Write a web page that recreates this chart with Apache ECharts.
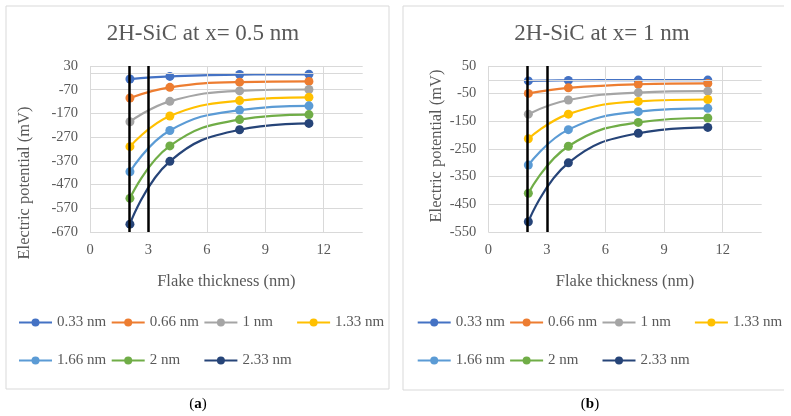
<!DOCTYPE html>
<html>
<head>
<meta charset="UTF-8">
<title>2H-SiC electric potential</title>
<script src="https://cdn.jsdelivr.net/npm/echarts@6/dist/echarts.min.js"></script>
<style>
  html, body { margin: 0; padding: 0; background: #fff; }
  #main { width: 791px; height: 416px; }
</style>
</head>
<body>
<div id="main"></div>
<script>
// flake thickness (nm) on the x axis
var thickness = [2.05, 4.1, 7.68, 11.24];
var seriesNames = ['0.33 nm', '0.66 nm', '1 nm', '1.33 nm', '1.66 nm', '2 nm', '2.33 nm'];
var colors = ['#4472C4', '#ED7D31', '#A5A5A5', '#FFC000', '#5B9BD5', '#70AD47', '#264478'];

// (a) x = 0.5 nm, potential in mV
var a033 = [-25, -14, -6, -5];
var a066 = [-105, -60, -38, -35];
var a1   = [-205, -119, -75, -69];
var a133 = [-310, -181, -116, -102];
var a166 = [-416, -242, -156, -138];
var a2   = [-528, -307, -196, -175];
var a233 = [-637, -372, -239, -212];

// (b) x = 1 nm, potential in mV
var b033 = [-4, -2, -1, -1];
var b066 = [-49, -29, -16, -13];
var b1   = [-124, -73, -46, -41];
var b133 = [-213, -124, -78, -71];
var b166 = [-308, -180, -115, -103];
var b2   = [-410, -240, -154, -138];
var b233 = [-513, -300, -193, -172];

// x gridlines (the axis runs to 14 but has no line there)
var xTicks = [0, 3, 6, 9, 12];
// vertical black marker lines (nm)
var cutoffs = [2, 3];

var grey = '#595959';
var gridGrey = '#d9d9d9';
var serif = 'Liberation Serif';

var myChart = echarts.init(document.getElementById('main'), null, { renderer: 'canvas' });

function makeSeries(gridIdx, lists) {
    var out = [];
    for (var i = 0; i < lists.length; i++) {
        var s = {
            name: seriesNames[i],
            type: 'line',
            xAxisIndex: gridIdx,
            yAxisIndex: gridIdx,
            data: thickness.map(function (t, j) { return [t, lists[i][j]]; }),
            smooth: 0.45,
            symbol: 'circle',
            symbolSize: 9,
            color: colors[i],
            lineStyle: { width: 2.2, color: colors[i] },
            itemStyle: { color: colors[i] },
            animation: false,
            z: 3
        };
        if (i === 0) {
            // grid lines first, then the zero axis line, then black markers
            var ml = xTicks.map(function (t) {
                return { xAxis: t, lineStyle: { color: gridGrey, width: 1, type: 'solid' } };
            });
            ml.push({ yAxis: 0, lineStyle: { color: gridGrey, width: 1, type: 'solid' } });
            cutoffs.forEach(function (c) {
                ml.push({ xAxis: c, lineStyle: { color: '#000', width: 2.5, type: 'solid' } });
            });
            s.markLine = { silent: true, symbol: ['none', 'none'], label: { show: false }, animation: false, data: ml };
        }
        out.push(s);
    }
    return out;
}

function xAx(gridIdx) {
    return {
        type: 'value', gridIndex: gridIdx, min: 0, max: 14, interval: 3,
        name: 'Flake thickness (nm)', nameLocation: 'middle', nameGap: 41,
        nameTextStyle: { color: grey, fontFamily: serif, fontSize: 16.5 },
        axisLine: { show: false }, axisTick: { show: false },
        axisLabel: { color: grey, fontFamily: serif, fontSize: 14.5, margin: 11, showMaxLabel: false },
        splitLine: { show: false }
    };
}

function yAx(gridIdx, lo, hi) {
    return {
        type: 'value', gridIndex: gridIdx, min: lo, max: hi, interval: 100,
        axisLine: { show: false }, axisTick: { show: false },
        axisLabel: { color: grey, fontFamily: serif, fontSize: 14.5, margin: 12 },
        splitLine: { show: true, lineStyle: { color: gridGrey, width: 1 } }
    };
}

// Excel lays the legend out in fixed columns (4 per row), one legend per entry
function legendBlock(left0, pitch) {
    var rowTops = [315, 353];
    return seriesNames.map(function (nm, i) {
        return {
            left: left0 + (i % 4) * pitch, top: rowTops[Math.floor(i / 4)],
            selectedMode: false, padding: 0, data: [nm],
            itemWidth: 33, itemHeight: 10,
            textStyle: { color: grey, fontFamily: serif, fontSize: 15 }
        };
    });
}

var option = {
    backgroundColor: '#fff',
    title: [
        { text: '2H-SiC at x= 0.5 nm', left: 198, top: 17, textAlign: 'center',
          textStyle: { color: grey, fontFamily: serif, fontSize: 23, fontWeight: 'normal' } },
        { text: '2H-SiC at x= 1 nm', left: 597, top: 17, textAlign: 'center',
          textStyle: { color: grey, fontFamily: serif, fontSize: 23, fontWeight: 'normal' } }
    ],
    grid: [
        { left: 90, right: 428.3, top: 66, bottom: 184 },
        { left: 488.3, right: 29.3, top: 66, bottom: 184 }
    ],
    xAxis: [xAx(0), xAx(1)],
    yAxis: [yAx(0, -670, 30), yAx(1, -550, 50)],
    legend: legendBlock(18, 92.7).concat(legendBlock(416.7, 92.4)),
    graphic: [
        { type: 'rect', shape: { x: 6, y: 6, width: 383, height: 383 },
          style: { fill: 'none', stroke: gridGrey, lineWidth: 1 }, silent: true },
        { type: 'polyline', shape: { points: [[784, 6], [403, 6], [403, 390], [784, 390]] },
          style: { fill: 'none', stroke: gridGrey, lineWidth: 1 }, silent: true },
        { type: 'text', x: 25, y: 183, rotation: Math.PI / 2,
          style: { text: 'Electric potential (mV)', fill: grey, font: '16.5px "Liberation Serif"',
                   textAlign: 'center', textVerticalAlign: 'middle' } },
        { type: 'text', x: 437, y: 146, rotation: Math.PI / 2,
          style: { text: 'Electric potential (mV)', fill: grey, font: '16.5px "Liberation Serif"',
                   textAlign: 'center', textVerticalAlign: 'middle' } },
        { type: 'text', x: 198, y: 404,
          style: { text: '({b|a})', fill: '#000', font: '15px "Liberation Serif"',
                   textAlign: 'center', textVerticalAlign: 'middle',
                   rich: { b: { fontWeight: 'bold', fontFamily: serif, fontSize: 15 } } } },
        { type: 'text', x: 590, y: 404,
          style: { text: '({b|b})', fill: '#000', font: '15px "Liberation Serif"',
                   textAlign: 'center', textVerticalAlign: 'middle',
                   rich: { b: { fontWeight: 'bold', fontFamily: serif, fontSize: 15 } } } }
    ],
    series: makeSeries(0, [a033, a066, a1, a133, a166, a2, a233])
        .concat(makeSeries(1, [b033, b066, b1, b133, b166, b2, b233]))
};

myChart.setOption(option);
</script>
</body>
</html>
